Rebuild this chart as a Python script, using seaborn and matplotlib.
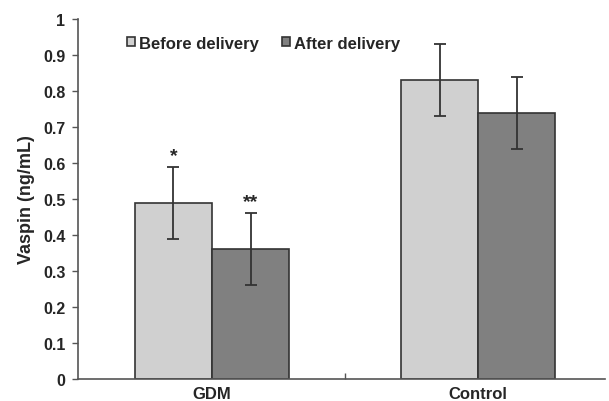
import matplotlib
matplotlib.use("Agg")
import matplotlib.pyplot as plt
import seaborn as sns
import pandas as pd
import numpy as np

groups = ["GDM", "Control"]
timepoints = ["Before delivery", "After delivery"]
before_vals = [0.49, 0.83]
after_vals = [0.36, 0.74]
before_err = [0.10, 0.10]
after_err = [0.10, 0.10]
marks_before = ["*", ""]
marks_after = ["**", ""]

rows = []
for i, g in enumerate(groups):
    rows.append({"group": g, "time": timepoints[0], "value": before_vals[i], "err": before_err[i], "mark": marks_before[i]})
    rows.append({"group": g, "time": timepoints[1], "value": after_vals[i], "err": after_err[i], "mark": marks_after[i]})
df = pd.DataFrame(rows)

sns.set_style("white")
plt.rcParams['font.family'] = ['Liberation Sans', 'DejaVu Sans']

fig = plt.figure(figsize=(6.09, 4.02), dpi=100)
ax = fig.add_axes([0.128, 0.0547, 0.865, 0.8953])

palette = {timepoints[0]: "#d0d0d0", timepoints[1]: "#808080"}
sns.barplot(data=df, x="group", y="value", hue="time", order=groups, hue_order=timepoints,
            palette=palette, errorbar=None, width=0.58, edgecolor="#333333", linewidth=1.2,
            saturation=1, ax=ax)

for cont, t in zip(ax.containers, timepoints):
    sub = df[df["time"] == t].set_index("group").loc[groups]
    for bar, (_, r) in zip(cont.patches, sub.iterrows()):
        xc = bar.get_x() + bar.get_width() / 2
        ax.errorbar(xc, r["value"], yerr=r["err"], fmt="none", ecolor="#333333",
                    elinewidth=1.3, capsize=4, capthick=1.3)
        if r["mark"]:
            ax.text(xc, r["value"] + r["err"] + 0.008, r["mark"], ha="center", va="bottom",
                    fontsize=14, fontweight="bold")

ax.set_ylim(0, 1)
ax.set_xlim(-0.503, 1.475)
ax.set_yticks(np.arange(0, 1.01, 0.1))
ax.set_yticklabels(["0"] + [f"{v:.1f}" for v in np.arange(0.1, 0.95, 0.1)] + ["1"])
ax.set_xlabel("")
ax.set_ylabel("Vaspin (ng/mL)", fontsize=13, fontweight="bold", labelpad=6)
for lab in ax.get_yticklabels():
    lab.set_fontweight("bold")
    lab.set_fontsize(11.5)
for lab in ax.get_xticklabels():
    lab.set_fontweight("bold")
    lab.set_fontsize(12)
ax.tick_params(axis="y", direction="out", length=4, width=1, color="#555555", left=True, pad=5)
ax.tick_params(axis="x", length=0, pad=5)
ax.set_xticks([0.5], minor=True)
ax.tick_params(axis="x", which="minor", direction="in", length=4, width=1, color="#555555", bottom=True)

for s in ["top", "right"]:
    ax.spines[s].set_visible(False)
for s in ["left", "bottom"]:
    ax.spines[s].set_color("#555555")
    ax.spines[s].set_linewidth(1.2)

leg = ax.legend(loc="upper left", bbox_to_anchor=(0.065, 0.995), ncol=2, frameon=False,
                handlelength=0.45, handleheight=0.45, handletextpad=0.25, columnspacing=1.4,
                prop={"weight": "bold", "size": 12})
fig.savefig("out.png", dpi=100)
